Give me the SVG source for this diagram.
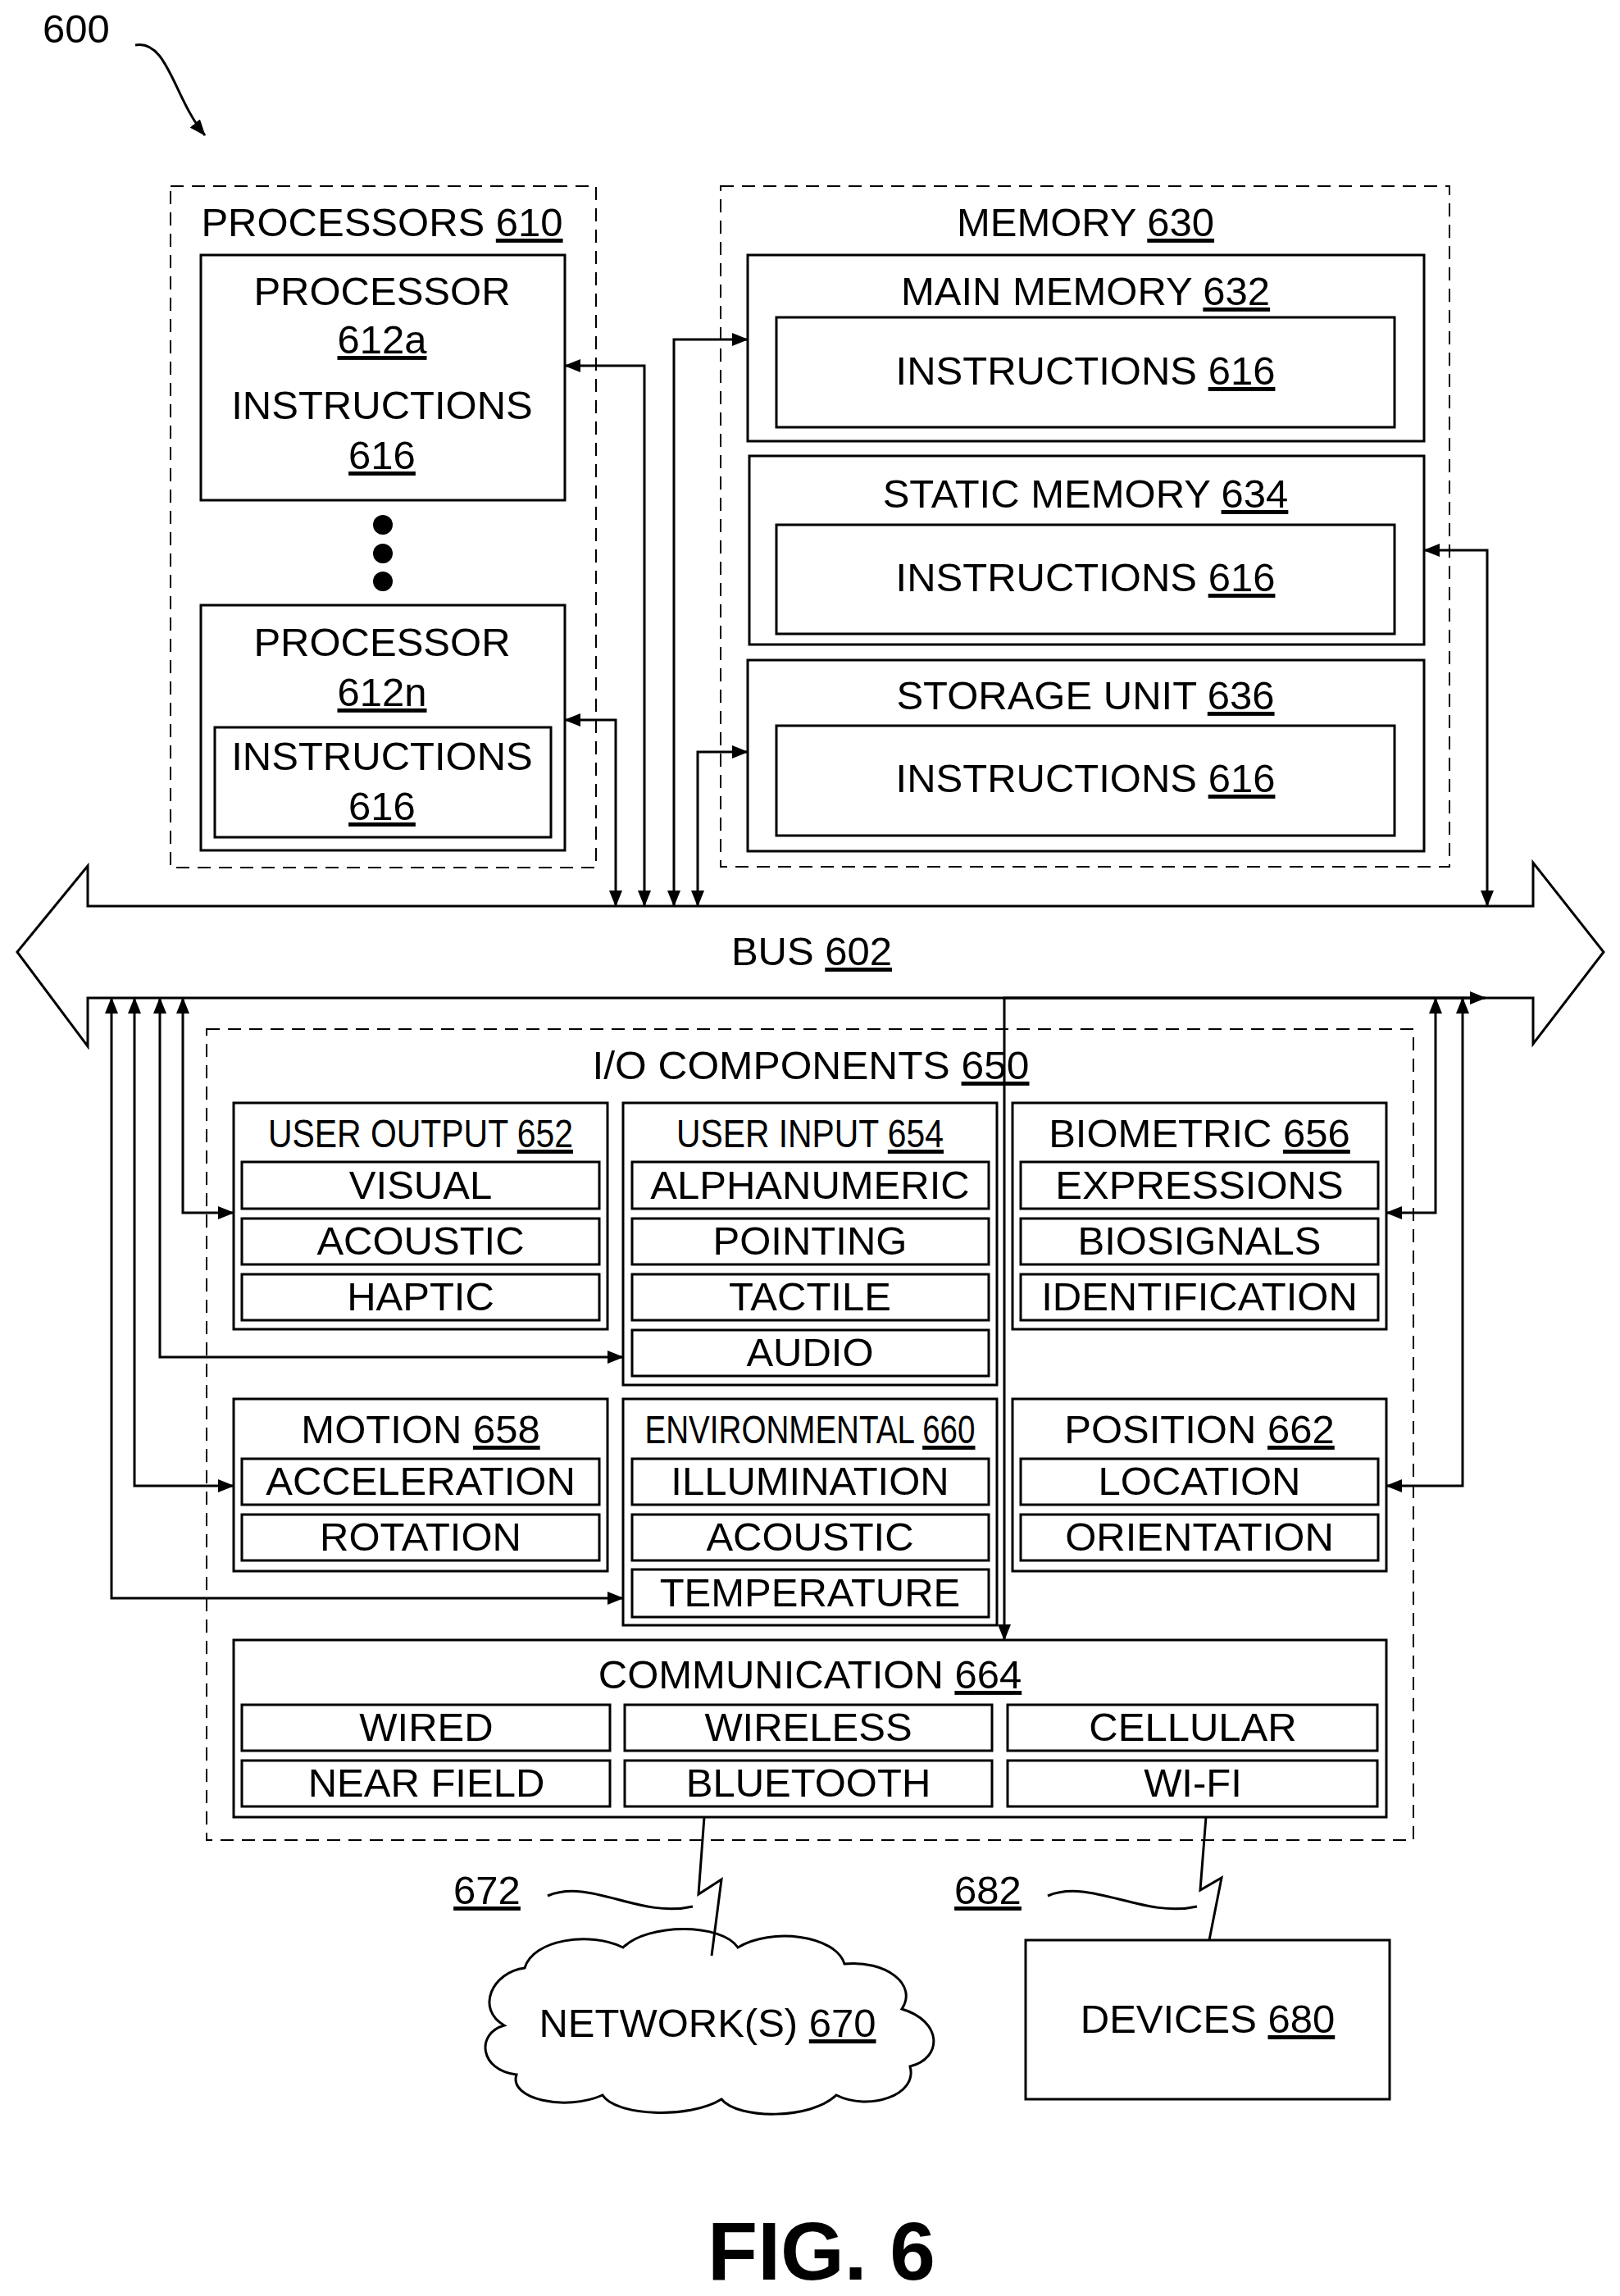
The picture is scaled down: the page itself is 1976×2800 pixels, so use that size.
<svg xmlns="http://www.w3.org/2000/svg" width="1976" height="2800" viewBox="0 0 1976 2800">
<style>
text{font-family:"Liberation Sans",Arial,sans-serif;font-size:49px;fill:#000;text-anchor:middle}
.u{text-decoration:underline}
.box{fill:none;stroke:#000;stroke-width:3}
.dash{fill:none;stroke:#000;stroke-width:2;stroke-dasharray:16 10}
.ln{fill:none;stroke:#000;stroke-width:3}
.fig{font-size:100px;font-weight:bold}
</style>
<defs>
<marker id="a" viewBox="0 0 20 16" refX="19" refY="8" markerWidth="20" markerHeight="16" markerUnits="userSpaceOnUse" orient="auto-start-reverse"><path d="M0 0L20 8L0 16z" fill="#000"/></marker>
</defs>
<rect width="1976" height="2800" fill="#fff"/>
<g id="label600"><text x="93" y="52">600</text><path class="ln" d="M165 55C205 48 212 120 250 165" marker-end="url(#a)"/></g>
<g id="bus"><path class="box" d="M21 1161L107 1056L107 1105L1870 1105L1870 1052L1956 1161L1870 1273L1870 1217L107 1217L107 1276Z"/><text x="990" y="1177">BUS <tspan class="u">602</tspan></text></g>
<g id="processors"><rect class="dash" x="208" y="227" width="519" height="831"/><text x="466" y="288">PROCESSORS <tspan class="u">610</tspan></text>
<rect class="box" x="245" y="311" width="444" height="299"/><text x="466" y="372">PROCESSOR</text><text x="466" y="431" class="u">612a</text><text x="466" y="511">INSTRUCTIONS</text><text x="466" y="572" class="u">616</text>
<circle cx="467" cy="640" r="12"/><circle cx="467" cy="675" r="12"/><circle cx="467" cy="709" r="12"/>
<rect class="box" x="245" y="738" width="444" height="299"/><text x="466" y="800">PROCESSOR</text><text x="466" y="861" class="u">612n</text>
<rect class="box" x="262" y="887" width="410" height="134"/><text x="466" y="939">INSTRUCTIONS</text><text x="466" y="1000" class="u">616</text></g>
<g id="memory"><rect class="dash" x="879" y="227" width="889" height="830"/><text x="1324" y="288">MEMORY <tspan class="u">630</tspan></text>
<rect class="box" x="912" y="311" width="825" height="227"/><text x="1324" y="372">MAIN MEMORY <tspan class="u">632</tspan></text><rect class="box" x="947" y="387" width="754" height="134"/><text x="1324" y="469">INSTRUCTIONS <tspan class="u">616</tspan></text>
<rect class="box" x="914" y="556" width="823" height="230"/><text x="1324" y="619">STATIC MEMORY <tspan class="u">634</tspan></text><rect class="box" x="947" y="640" width="754" height="133"/><text x="1324" y="721">INSTRUCTIONS <tspan class="u">616</tspan></text>
<rect class="box" x="912" y="805" width="825" height="233"/><text x="1324" y="865">STORAGE UNIT <tspan class="u">636</tspan></text><rect class="box" x="947" y="885" width="754" height="134"/><text x="1324" y="966">INSTRUCTIONS <tspan class="u">616</tspan></text></g>
<g id="io"><rect class="dash" x="252" y="1255" width="1472" height="989"/><text x="989" y="1316" textLength="533" lengthAdjust="spacingAndGlyphs">I/O COMPONENTS <tspan class="u">650</tspan></text>
<g id="userout"><rect class="box" x="285" y="1345" width="456" height="276"/><text x="513" y="1399" textLength="372" lengthAdjust="spacingAndGlyphs">USER OUTPUT <tspan class="u">652</tspan></text>
<rect class="box" x="295" y="1417" width="436" height="57"/><text x="513" y="1462">VISUAL</text><rect class="box" x="295" y="1486" width="436" height="56"/><text x="513" y="1530">ACOUSTIC</text><rect class="box" x="295" y="1554" width="436" height="56"/><text x="513" y="1598">HAPTIC</text></g>
<g id="userin"><rect class="box" x="760" y="1345" width="456" height="344"/><text x="988" y="1399" textLength="326" lengthAdjust="spacingAndGlyphs">USER INPUT <tspan class="u">654</tspan></text>
<rect class="box" x="771" y="1417" width="435" height="57"/><text x="988" y="1462">ALPHANUMERIC</text><rect class="box" x="771" y="1486" width="435" height="56"/><text x="988" y="1530">POINTING</text><rect class="box" x="771" y="1554" width="435" height="56"/><text x="988" y="1598">TACTILE</text><rect class="box" x="771" y="1622" width="435" height="56"/><text x="988" y="1666">AUDIO</text></g>
<g id="bio"><rect class="box" x="1235" y="1345" width="456" height="276"/><text x="1463" y="1399">BIOMETRIC <tspan class="u">656</tspan></text>
<rect class="box" x="1245" y="1417" width="436" height="57"/><text x="1463" y="1462">EXPRESSIONS</text><rect class="box" x="1245" y="1486" width="436" height="56"/><text x="1463" y="1530">BIOSIGNALS</text><rect class="box" x="1245" y="1554" width="436" height="56"/><text x="1463" y="1598">IDENTIFICATION</text></g>
<g id="motion"><rect class="box" x="285" y="1706" width="456" height="210"/><text x="513" y="1760">MOTION <tspan class="u">658</tspan></text>
<rect class="box" x="295" y="1779" width="436" height="56"/><text x="513" y="1823">ACCELERATION</text><rect class="box" x="295" y="1847" width="436" height="56"/><text x="513" y="1891">ROTATION</text></g>
<g id="env"><rect class="box" x="760" y="1706" width="456" height="276"/><text x="988" y="1760" textLength="403" lengthAdjust="spacingAndGlyphs">ENVIRONMENTAL <tspan class="u">660</tspan></text>
<rect class="box" x="771" y="1779" width="435" height="56"/><text x="988" y="1823">ILLUMINATION</text><rect class="box" x="771" y="1847" width="435" height="56"/><text x="988" y="1891">ACOUSTIC</text><rect class="box" x="771" y="1914" width="435" height="58"/><text x="988" y="1959">TEMPERATURE</text></g>
<g id="position"><rect class="box" x="1235" y="1706" width="456" height="210"/><text x="1463" y="1760">POSITION <tspan class="u">662</tspan></text>
<rect class="box" x="1245" y="1779" width="436" height="56"/><text x="1463" y="1823">LOCATION</text><rect class="box" x="1245" y="1847" width="436" height="56"/><text x="1463" y="1891">ORIENTATION</text></g>
<g id="comm"><rect class="box" x="285" y="2000" width="1406" height="216"/><text x="988" y="2059">COMMUNICATION <tspan class="u">664</tspan></text>
<rect class="box" x="295" y="2079" width="449" height="56"/><text x="520" y="2123">WIRED</text><rect class="box" x="762" y="2079" width="448" height="56"/><text x="986" y="2123">WIRELESS</text><rect class="box" x="1229" y="2079" width="451" height="56"/><text x="1455" y="2123">CELLULAR</text>
<rect class="box" x="295" y="2147" width="449" height="56"/><text x="520" y="2191">NEAR FIELD</text><rect class="box" x="762" y="2147" width="448" height="56"/><text x="986" y="2191">BLUETOOTH</text><rect class="box" x="1229" y="2147" width="451" height="56"/><text x="1455" y="2191">WI-FI</text></g></g>
<g id="network"><path class="box" d="M640 2400C650 2365 720 2355 760 2375C790 2345 880 2345 900 2375C940 2350 1020 2360 1030 2395C1080 2390 1120 2420 1100 2450C1150 2465 1150 2510 1110 2520C1120 2555 1060 2575 1020 2555C990 2585 900 2585 880 2560C840 2585 750 2580 735 2555C690 2575 620 2560 630 2530C585 2525 580 2480 615 2470C580 2450 600 2405 640 2400Z"/><text x="863" y="2484">NETWORK(S) <tspan class="u">670</tspan></text></g>
<g id="devices"><rect class="box" x="1251" y="2366" width="444" height="194"/><text x="1473" y="2479">DEVICES <tspan class="u">680</tspan></text></g>
<g id="labels"><text x="594" y="2322" class="u">672</text><text x="1205" y="2322" class="u">682</text><text x="1002" y="2780" class="fig">FIG. 6</text></g>
<g id="connectors">
<path class="ln" d="M689 446H786V1105" marker-start="url(#a)" marker-end="url(#a)"/>
<path class="ln" d="M689 878H751V1105" marker-start="url(#a)" marker-end="url(#a)"/>
<path class="ln" d="M912 414H822V1105" marker-start="url(#a)" marker-end="url(#a)"/>
<path class="ln" d="M912 917H851V1105" marker-start="url(#a)" marker-end="url(#a)"/>
<path class="ln" d="M1737 671H1814V1105" marker-start="url(#a)" marker-end="url(#a)"/>
<path class="ln" d="M223 1217V1479H285" marker-start="url(#a)" marker-end="url(#a)"/>
<path class="ln" d="M195 1217V1655H760" marker-start="url(#a)" marker-end="url(#a)"/>
<path class="ln" d="M164 1217V1812H285" marker-start="url(#a)" marker-end="url(#a)"/>
<path class="ln" d="M136 1217V1949H760" marker-start="url(#a)" marker-end="url(#a)"/>
<path class="ln" d="M1751 1217V1479H1691" marker-start="url(#a)" marker-end="url(#a)"/>
<path class="ln" d="M1784 1217V1812H1691" marker-start="url(#a)" marker-end="url(#a)"/>
<path class="ln" d="M1225 2000V1217H1812" marker-start="url(#a)" marker-end="url(#a)"/>
<path class="ln" d="M859 2216L852 2310L880 2292L868 2385"/>
<path class="ln" d="M1471 2216L1464 2305L1490 2290L1475 2366"/>
<path class="ln" d="M668 2312C720 2290 780 2340 845 2325"/>
<path class="ln" d="M1278 2312C1330 2290 1395 2340 1460 2325"/>
</g>
</svg>
